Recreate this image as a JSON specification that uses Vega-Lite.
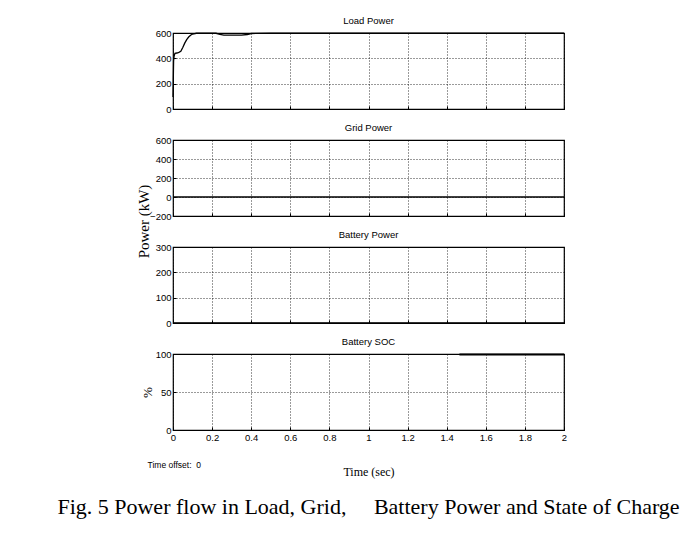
{
  "$schema": "https://vega.github.io/schema/vega-lite/v6.json",
  "background": "white",
  "padding": {"left": 57, "top": 14, "right": 5, "bottom": 5},
  "bounds": "flush",
  "spacing": 31,
  "config": {
    "view": {"stroke": "#000", "strokeWidth": 1.2},
    "axis": {
      "domain": false,
      "ticks": true,
      "tickSize": -3,
      "tickColor": "#000",
      "tickWidth": 1,
      "grid": true,
      "gridColor": "#000",
      "gridOpacity": 1,
      "gridDash": [1, 2],
      "gridWidth": 0.8,
      "labelFont": "Liberation Sans",
      "labelFontSize": 9.5,
      "labelColor": "#000",
      "labelPadding": 5,
      "labelFlush": false,
      "labelOverlap": false,
      "titleFont": "Liberation Serif",
      "titleFontWeight": "normal",
      "titleColor": "#000"
    },
    "title": {
      "font": "Liberation Sans",
      "fontSize": 9.5,
      "fontWeight": "normal",
      "color": "#000",
      "offset": 3
    }
  },
  "title": {
    "text": "Fig. 5 Power flow in Load, Grid,\u00a0\u00a0\u00a0\u00a0 Battery Power and State of Charge",
    "orient": "bottom",
    "anchor": "middle",
    "frame": "group",
    "font": "Liberation Serif",
    "fontSize": 22,
    "fontWeight": "normal",
    "color": "#000",
    "offset": 19
  },
  "datasets": {
    "load": [
      {"t": 0, "p": 95},
      {"t": 0.003, "p": 380},
      {"t": 0.006, "p": 420},
      {"t": 0.01, "p": 440},
      {"t": 0.02, "p": 442},
      {"t": 0.03, "p": 447},
      {"t": 0.04, "p": 455},
      {"t": 0.05, "p": 485},
      {"t": 0.06, "p": 520},
      {"t": 0.07, "p": 548},
      {"t": 0.08, "p": 568},
      {"t": 0.09, "p": 582},
      {"t": 0.1, "p": 592},
      {"t": 0.12, "p": 598},
      {"t": 0.22, "p": 598},
      {"t": 0.24, "p": 590},
      {"t": 0.26, "p": 584},
      {"t": 0.3, "p": 583},
      {"t": 0.35, "p": 584},
      {"t": 0.38, "p": 588},
      {"t": 0.4, "p": 596},
      {"t": 0.5, "p": 598},
      {"t": 2, "p": 598}
    ],
    "grid": [{"t": 0, "p": 0}, {"t": 2, "p": 0}],
    "batt": [{"t": 0, "p": 0}, {"t": 2, "p": 0}],
    "soc": [{"t": 1.465, "p": 99.2}, {"t": 2, "p": 99.2}],
    "note": [{"t": -0.13, "p": -46, "label": "Time offset:\u00a0 0"}]
  },
  "vconcat": [
    {
      "title": "Load Power",
      "width": 391,
      "height": 76,
      "data": {"name": "load"},
      "mark": {"type": "line", "color": "#000", "strokeWidth": 1.3},
      "encoding": {
        "x": {"field": "t", "type": "quantitative", "scale": {"domain": [0, 2], "nice": false},
              "axis": {"values": [0, 0.2, 0.4, 0.6, 0.8, 1, 1.2, 1.4, 1.6, 1.8, 2], "labels": false, "title": null}},
        "y": {"field": "p", "type": "quantitative", "scale": {"domain": [0, 600], "nice": false, "zero": false},
              "axis": {"values": [0, 200, 400, 600], "title": null}}
      }
    },
    {
      "title": "Grid Power",
      "width": 391,
      "height": 76,
      "data": {"name": "grid"},
      "mark": {"type": "line", "color": "#000", "strokeWidth": 1.5},
      "encoding": {
        "x": {"field": "t", "type": "quantitative", "scale": {"domain": [0, 2], "nice": false},
              "axis": {"values": [0, 0.2, 0.4, 0.6, 0.8, 1, 1.2, 1.4, 1.6, 1.8, 2], "labels": false, "title": null}},
        "y": {"field": "p", "type": "quantitative", "scale": {"domain": [-200, 600], "nice": false, "zero": false},
              "axis": {"values": [-200, 0, 200, 400, 600], "title": "Power (kW)", "titleFontSize": 15,
                       "titleX": -25, "titleY": 81, "titleAlign": "center", "titleBaseline": "alphabetic", "titleAngle": -90}}
      }
    },
    {
      "title": "Battery Power",
      "width": 391,
      "height": 76,
      "data": {"name": "batt"},
      "mark": {"type": "line", "color": "#000", "strokeWidth": 1.5},
      "encoding": {
        "x": {"field": "t", "type": "quantitative", "scale": {"domain": [0, 2], "nice": false},
              "axis": {"values": [0, 0.2, 0.4, 0.6, 0.8, 1, 1.2, 1.4, 1.6, 1.8, 2], "labels": false, "title": null}},
        "y": {"field": "p", "type": "quantitative", "scale": {"domain": [0, 300], "nice": false, "zero": false},
              "axis": {"values": [0, 100, 200, 300], "title": null}}
      }
    },
    {
      "title": "Battery SOC",
      "width": 391,
      "height": 76,
      "encoding": {
        "x": {"field": "t", "type": "quantitative", "scale": {"domain": [0, 2], "nice": false},
              "axis": {"values": [0, 0.2, 0.4, 0.6, 0.8, 1, 1.2, 1.4, 1.6, 1.8, 2], "format": "~g",
                       "labelOverlap": false, "labelBound": false,
                       "title": "Time (sec)", "titleFontSize": 12, "titlePadding": 25}},
        "y": {"field": "p", "type": "quantitative", "scale": {"domain": [0, 100], "nice": false, "zero": false},
              "axis": {"values": [0, 50, 100], "title": "%", "titleFontSize": 13,
                       "titleX": -22, "titleY": 38, "titleAlign": "center", "titleBaseline": "alphabetic", "titleAngle": -90}}
      },
      "layer": [
        {
          "data": {"name": "soc"},
          "mark": {"type": "line", "color": "#000", "strokeWidth": 2}
        },
        {
          "data": {"name": "note"},
          "mark": {"type": "text", "align": "left", "baseline": "middle", "color": "#000", "fontSize": 8.5,
                   "font": "Liberation Sans"},
          "encoding": {
            "text": {"field": "label"}
          }
        }
      ]
    }
  ]
}
